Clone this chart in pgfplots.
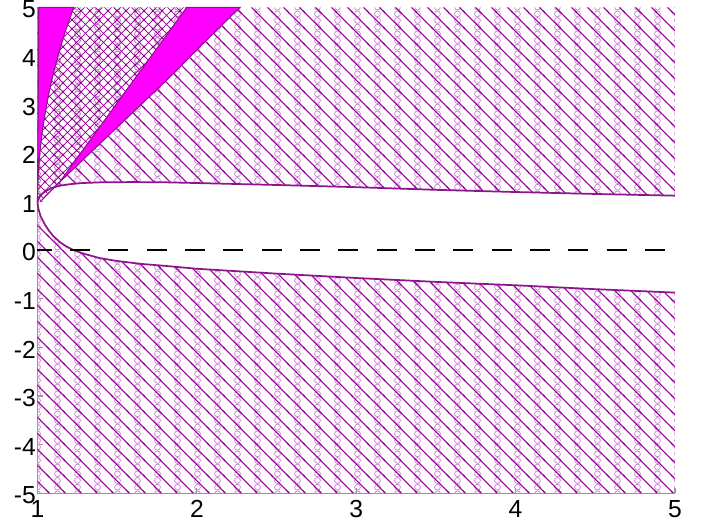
\documentclass[border=0pt]{standalone}
\usepackage{fontspec}
\setmainfont{Liberation Sans}
\usepackage{pgfplots}
\pgfplotsset{compat=1.18}
\usetikzlibrary{patterns}

\definecolor{hatchPurple}{RGB}{150,0,150}
\definecolor{ringPurple}{RGB}{205,140,215}
\definecolor{edgePurple}{RGB}{140,20,140}
\definecolor{wedgeMagenta}{RGB}{255,0,255}
\definecolor{axisGray}{RGB}{150,150,150}

% single "\" hatch, 45 degrees
\pgfdeclarepatternformonly{hatchNW}{\pgfqpoint{-1pt}{-1pt}}{\pgfqpoint{13pt}{13pt}}{\pgfqpoint{12pt}{12pt}}{
  \pgfsetlinewidth{0.75pt}
  \pgfpathmoveto{\pgfqpoint{-1pt}{13pt}}
  \pgfpathlineto{\pgfqpoint{13pt}{-1pt}}
  \pgfusepath{stroke}
}
% cross hatch
\pgfdeclarepatternformonly{hatchX}{\pgfqpoint{-1pt}{-1pt}}{\pgfqpoint{7.75pt}{7.75pt}}{\pgfqpoint{6.75pt}{6.75pt}}{
  \pgfsetlinewidth{0.6pt}
  \pgfpathmoveto{\pgfqpoint{-1pt}{7.75pt}}
  \pgfpathlineto{\pgfqpoint{7.75pt}{-1pt}}
  \pgfpathmoveto{\pgfqpoint{-1pt}{-1pt}}
  \pgfpathlineto{\pgfqpoint{7.75pt}{7.75pt}}
  \pgfusepath{stroke}
}
% columns of small rings
\pgfdeclarepatternformonly{ringColumns}{\pgfqpoint{0pt}{-1pt}}{\pgfqpoint{16pt}{6pt}}{\pgfqpoint{15pt}{5pt}}{
  \pgfsetlinewidth{0.6pt}
  \pgfpathcircle{\pgfqpoint{13.125pt}{2.5pt}}{2.2pt}
  \pgfusepath{stroke}
}

\begin{document}
\begin{tikzpicture}
\useasboundingbox (-28.125pt,-23pt) rectangle (498.4pt,369.9pt);
\begin{axis}[
  at={(0pt,0pt)}, anchor=south west,
  scale only axis, width=478.125pt, height=364.3pt,
  xmin=1, xmax=5, ymin=-5, ymax=5,
  axis lines=left,
  axis line style={-, draw=axisGray, line width=0.8pt},
  tick align=inside, major tick length=4pt,
  tick style={draw=axisGray, line width=0.8pt},
  xtick={1,2,3,4,5}, ytick={-5,-4,-3,-2,-1,0,1,2,3,4,5},
  xticklabels={1,2,3,4,5},
  yticklabels={-5,-4,-3,-2,-1,0,1,2,3,4,5},
  ticklabel style={font=\fontsize{18.5}{21}\selectfont, text=black},
  xticklabel style={inner sep=1pt, yshift=-4.5pt},
  yticklabel style={inner sep=1pt, yshift=-1.5pt},
  clip=false,
]
% region above the upper branch
\addplot[draw=none, pattern=ringColumns, pattern color=ringPurple,
  postaction={pattern=hatchNW, pattern color=hatchPurple}]
  coordinates {(1,1) (1.005,1.05) (1.015,1.11) (1.03,1.165) (1.05,1.215)
    (1.075,1.26) (1.1,1.295) (1.14,1.33) (1.2,1.36) (1.28,1.385) (1.4,1.40)
    (1.6,1.405) (1.8,1.40) (2.0,1.385) (2.5,1.345) (3.0,1.30) (3.5,1.245)
    (4.0,1.20) (4.5,1.16) (5,1.125) (5,5) (1,5)} -- cycle;
% region below the lower branch
\addplot[draw=none, pattern=ringColumns, pattern color=ringPurple,
  postaction={pattern=hatchNW, pattern color=hatchPurple}]
  coordinates {(1,1) (1.003,0.9) (1.01,0.8) (1.02,0.7) (1.035,0.6) (1.05,0.51)
    (1.075,0.39) (1.10,0.29) (1.14,0.17) (1.18,0.08) (1.23,0.0) (1.29,-0.07)
    (1.39,-0.16) (1.5,-0.22) (1.65,-0.28) (1.8,-0.32) (2.0,-0.38) (2.5,-0.48)
    (3.0,-0.57) (3.5,-0.65) (4.0,-0.72) (4.5,-0.80) (5,-0.87) (5,-5) (1,-5)} -- cycle;
% cross hatched strip between the wedges
\addplot[draw=none, fill=white] coordinates {(1,1) (1.0036,1.5) (1.0142,2)
    (1.032,2.5) (1.057,3) (1.089,3.5) (1.128,4) (1.174,4.5) (1.227,5)
    (1.936,5) (1.162,1.51) (1.14,1.41) (1.016,1.0)} -- cycle;
\addplot[draw=none, pattern=ringColumns, pattern color=ringPurple!75!hatchPurple,
  postaction={pattern=hatchX, pattern color=hatchPurple}]
  coordinates {(1,1) (1.0036,1.5) (1.0142,2)
    (1.032,2.5) (1.057,3) (1.089,3.5) (1.128,4) (1.174,4.5) (1.227,5)
    (1.936,5) (1.162,1.51) (1.14,1.41) (1.016,1.0)} -- cycle;
% magenta wedges
\addplot[fill=wedgeMagenta, draw=edgePurple, line width=0.8pt]
  coordinates {(1,1) (1.0036,1.5) (1.0142,2) (1.032,2.5) (1.057,3)
    (1.089,3.5) (1.128,4) (1.174,4.5) (1.227,5) (1.008,5)} -- cycle;
\addplot[fill=wedgeMagenta, draw=edgePurple, line width=0.8pt]
  coordinates {(1.016,1.0) (1.141,1.41) (1.329,2.0) (1.538,2.65) (1.81,3.50)
    (2.019,4.19) (2.27,5.0) (1.936,5.0) (1.162,1.51) (1.14,1.41)} -- cycle;
% boundary curves
\addplot[edgePurple, line width=1.3pt]
  coordinates {(1,1) (1.005,1.05) (1.015,1.11) (1.03,1.165) (1.05,1.215)
    (1.075,1.26) (1.1,1.295) (1.14,1.33) (1.2,1.36) (1.28,1.385) (1.4,1.40)
    (1.6,1.405) (1.8,1.40) (2.0,1.385) (2.5,1.345) (3.0,1.30) (3.5,1.245)
    (4.0,1.20) (4.5,1.16) (5,1.125)};
\addplot[edgePurple, line width=1.3pt]
  coordinates {(1,1) (1.003,0.9) (1.01,0.8) (1.02,0.7) (1.035,0.6) (1.05,0.51)
    (1.075,0.39) (1.10,0.29) (1.14,0.17) (1.18,0.08) (1.23,0.0) (1.29,-0.07)
    (1.39,-0.16) (1.5,-0.22) (1.65,-0.28) (1.8,-0.32) (2.0,-0.38) (2.5,-0.48)
    (3.0,-0.57) (3.5,-0.65) (4.0,-0.72) (4.5,-0.80) (5,-0.87)};
% zero line
\addplot[black, line width=1.6pt, dash pattern=on 15pt off 13.75pt, dash phase=4.3pt]
  coordinates {(1,0) (5,0)};
\end{axis}
\end{tikzpicture}
\end{document}
